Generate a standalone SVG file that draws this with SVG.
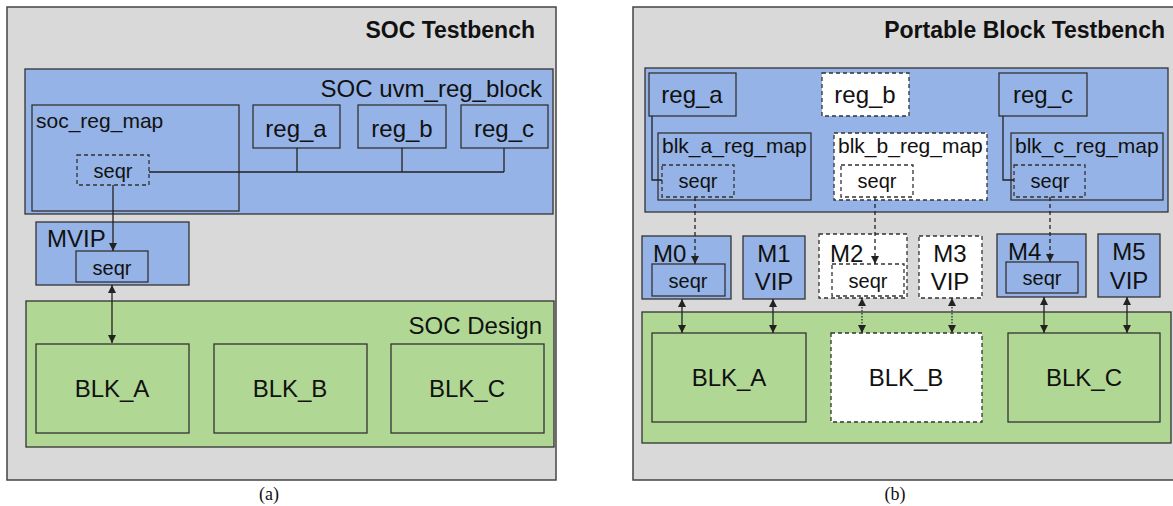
<svg xmlns="http://www.w3.org/2000/svg" width="1173" height="506" viewBox="0 0 1173 506">
<defs>
<marker id="ah" viewBox="0 0 10 10" refX="10" refY="5" markerWidth="8" markerHeight="8" markerUnits="userSpaceOnUse" orient="auto-start-reverse"><path d="M0,0 L10,5 L0,10 z" fill="#222"/></marker>
<style>
text{font-family:"Liberation Sans",Arial,sans-serif;fill:#111}
.bg{fill:#d9d9d9;stroke:#444;stroke-width:1.5}
.blue{fill:#95b3e6;stroke:#333;stroke-width:1.3}
.green{fill:#b0d894;stroke:#333;stroke-width:1.3}
.bd{fill:none;stroke:#333;stroke-width:1.3}
.white{fill:#fff;stroke:#333;stroke-width:1.3;stroke-dasharray:4,3}
.dash{fill:none;stroke:#333;stroke-width:1.3;stroke-dasharray:4,3}
.t24{font-size:24px}
.t21{font-size:21px}
.t20{font-size:20px}
.title{font-size:23px;font-weight:bold}
.mid{text-anchor:middle}
.end{text-anchor:end}
.cap{font-family:"Liberation Serif","Times New Roman",serif;font-size:18px}
.ln{fill:none;stroke:#222;stroke-width:1.3}
.lnd{fill:none;stroke:#222;stroke-width:1.3;stroke-dasharray:4,3}
.lndot{fill:none;stroke:#222;stroke-width:1.2;stroke-dasharray:1.5,1.5}
</style>
</defs>
<rect x="0" y="0" width="1173" height="506" fill="#fff"/>

<!-- ===== (a) SOC Testbench ===== -->
<g id="soc_testbench">
<rect class="bg" x="7" y="7" width="549" height="473"/>
<text class="title end" x="535" y="38">SOC Testbench</text>
</g>
<g id="soc_reg_block">
<rect class="blue" x="25" y="69" width="528" height="145"/>
<text class="t24 end" x="542" y="97">SOC uvm_reg_block</text>
</g>
<g id="soc_reg_map">
<rect class="bd" x="32" y="105" width="207" height="106"/>
<text class="t21" x="36" y="128">soc_reg_map</text>
</g>
<g id="soc_seqr">
<rect class="dash" x="77" y="155" width="72" height="30"/>
<text class="t20 mid" x="113" y="178">seqr</text>
</g>
<g id="a_reg_a">
<rect class="bd" x="253" y="105" width="87" height="43"/>
<text class="t24 mid" x="296" y="137">reg_a</text>
</g>
<g id="a_reg_b">
<rect class="bd" x="358" y="105" width="88" height="43"/>
<text class="t24 mid" x="402" y="137">reg_b</text>
</g>
<g id="a_reg_c">
<rect class="bd" x="461" y="105" width="87" height="43"/>
<text class="t24 mid" x="504" y="137">reg_c</text>
</g>
<g id="mvip">
<rect class="blue" x="36" y="222" width="153" height="63"/>
<text class="t24" x="47" y="247">MVIP</text>
<rect class="bd" x="76" y="251" width="72" height="31"/>
<text class="t20 mid" x="112" y="275">seqr</text>
</g>
<g id="soc_design">
<rect class="green" x="26" y="301" width="528" height="146"/>
<text class="t24 end" x="542" y="334">SOC Design</text>
</g>
<g id="a_blk_a">
<rect class="bd" x="36" y="344" width="153" height="89"/>
<text class="t24 mid" x="112" y="397">BLK_A</text>
</g>
<g id="a_blk_b">
<rect class="bd" x="214" y="344" width="153" height="89"/>
<text class="t24 mid" x="290" y="397">BLK_B</text>
</g>
<g id="a_blk_c">
<rect class="bd" x="391" y="344" width="153" height="89"/>
<text class="t24 mid" x="467" y="397">BLK_C</text>
</g>
<text class="cap mid" x="269" y="500">(a)</text>

<!-- ===== (b) Portable Block Testbench ===== -->
<g id="pb_testbench">
<rect class="bg" x="633" y="7" width="560" height="473"/>
<text class="title end" x="1165" y="38">Portable Block Testbench</text>
</g>
<g id="pb_reg_block">
<rect class="blue" x="645" y="68" width="523" height="144"/>
</g>
<g id="b_reg_a">
<rect class="blue" x="649" y="73" width="87" height="43"/>
<text class="t24 mid" x="692" y="103">reg_a</text>
</g>
<g id="b_reg_b">
<rect class="white" x="822" y="73" width="87" height="43"/>
<text class="t24 mid" x="865" y="103">reg_b</text>
</g>
<g id="b_reg_c">
<rect class="blue" x="999" y="73" width="88" height="43"/>
<text class="t24 mid" x="1043" y="103">reg_c</text>
</g>
<g id="blk_a_reg_map">
<rect class="bd" x="658" y="133" width="153" height="67"/>
<text class="t21" x="662" y="153">blk_a_reg_map</text>
<rect class="dash" x="662" y="165" width="72" height="32"/>
<text class="t20 mid" x="698" y="188">seqr</text>
</g>
<g id="blk_b_reg_map">
<rect class="white" x="834" y="133" width="153" height="67"/>
<text class="t21" x="838" y="153">blk_b_reg_map</text>
<rect class="white" x="841" y="165" width="72" height="32"/>
<text class="t20 mid" x="877" y="188">seqr</text>
</g>
<g id="blk_c_reg_map">
<rect class="bd" x="1011" y="133" width="152" height="67"/>
<text class="t21" x="1015" y="153">blk_c_reg_map</text>
<rect class="dash" x="1014" y="165" width="71" height="32"/>
<text class="t20 mid" x="1050" y="188">seqr</text>
</g>
<g id="m0">
<rect class="blue" x="642" y="236" width="89" height="63"/>
<text class="t24" x="653" y="262">M0</text>
<rect class="bd" x="652" y="264" width="73" height="32"/>
<text class="t20 mid" x="688" y="288">seqr</text>
</g>
<g id="m1">
<rect class="blue" x="743" y="236" width="62" height="63"/>
<text class="t24 mid" x="774" y="262">M1</text>
<text class="t24 mid" x="774" y="290">VIP</text>
</g>
<g id="m2">
<rect class="white" x="819" y="234" width="88" height="64"/>
<text class="t24" x="830" y="262">M2</text>
<rect class="white" x="832" y="264" width="72" height="32"/>
<text class="t20 mid" x="868" y="288">seqr</text>
</g>
<g id="m3">
<rect class="white" x="919" y="236" width="63" height="62"/>
<text class="t24 mid" x="950" y="262">M3</text>
<text class="t24 mid" x="950" y="290">VIP</text>
</g>
<g id="m4">
<rect class="blue" x="997" y="234" width="89" height="63"/>
<text class="t24" x="1008" y="260">M4</text>
<rect class="bd" x="1006" y="262" width="72" height="31"/>
<text class="t20 mid" x="1042" y="285">seqr</text>
</g>
<g id="m5">
<rect class="blue" x="1098" y="234" width="62" height="63"/>
<text class="t24 mid" x="1129" y="260">M5</text>
<text class="t24 mid" x="1129" y="289">VIP</text>
</g>
<g id="pb_design">
<rect class="green" x="642" y="312" width="529" height="131"/>
</g>
<g id="b_blk_a">
<rect class="bd" x="652" y="333" width="154" height="89"/>
<text class="t24 mid" x="729" y="386">BLK_A</text>
</g>
<g id="b_blk_b">
<rect class="white" x="831" y="333" width="151" height="89"/>
<text class="t24 mid" x="906" y="386">BLK_B</text>
</g>
<g id="b_blk_c">
<rect class="bd" x="1008" y="333" width="152" height="89"/>
<text class="t24 mid" x="1084" y="386">BLK_C</text>
</g>
<text class="cap mid" x="895" y="500">(b)</text>

<!-- ===== connectors ===== -->
<g id="connectors">
<path class="ln" d="M149,172 H504 M297,148 V172 M402,148 V172 M504,148 V172"/>
<path class="ln" d="M113,185 V251" marker-end="url(#ah)"/>
<path class="ln" d="M112,285 V343" marker-start="url(#ah)" marker-end="url(#ah)"/>
<path class="ln" d="M652,116 V180 H662"/>
<path class="ln" d="M1003,116 V180 H1014"/>
<path class="lnd" d="M695,197 V264" marker-end="url(#ah)"/>
<path class="lnd" d="M875,197 V264" marker-end="url(#ah)"/>
<path class="lnd" d="M1050,197 V262" marker-end="url(#ah)"/>
<path class="ln" d="M682,299 V333" marker-start="url(#ah)" marker-end="url(#ah)"/>
<path class="ln" d="M773,299 V333" marker-start="url(#ah)" marker-end="url(#ah)"/>
<path class="lndot" d="M862,298 V333" marker-start="url(#ah)" marker-end="url(#ah)"/>
<path class="lndot" d="M952,298 V333" marker-start="url(#ah)" marker-end="url(#ah)"/>
<path class="ln" d="M1044,297 V333" marker-start="url(#ah)" marker-end="url(#ah)"/>
<path class="ln" d="M1127,297 V333" marker-start="url(#ah)" marker-end="url(#ah)"/>
</g>
</svg>
